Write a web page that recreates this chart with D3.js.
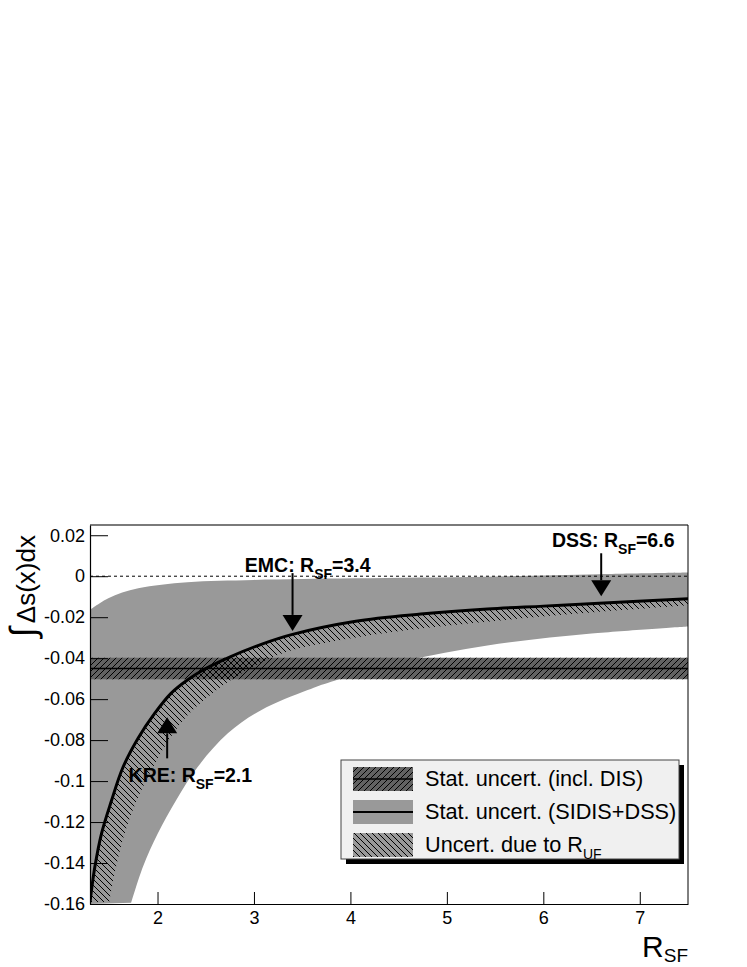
<!DOCTYPE html>
<html><head><meta charset="utf-8">
<script src="https://cdn.jsdelivr.net/npm/d3@7"></script>
<style>
html,body{margin:0;padding:0;background:#fff;}
svg{display:block;font-family:"Liberation Sans",Arial,Helvetica,sans-serif;}
</style></head>
<body>
<svg id="chart" width="747" height="967"></svg>
<script>
// ---- data ----
const xDomain = [1.3, 7.5];
const yDomain = [-0.16, 0.025];
const xMajorTicks = [2, 3, 4, 5, 6, 7];
const yMajorTicks = [-0.16, -0.14, -0.12, -0.1, -0.08, -0.06, -0.04, -0.02, 0, 0.02];
const yTickLabels = ["-0.16", "-0.14", "-0.12", "-0.1", "-0.08", "-0.06", "-0.04", "-0.02", "0", "0.02"];

// central curve: integral of Delta s vs R_SF
const R_central = [1.30, 1.35, 1.42, 1.52, 1.64, 1.80, 1.97, 2.14, 2.31, 2.49, 2.76, 3.09, 3.39, 4.04, 4.73, 5.42, 6.00, 6.58, 7.50];
const ds_central = [-0.159, -0.142, -0.1255, -0.110, -0.0935, -0.079, -0.067, -0.0572, -0.0507, -0.0453, -0.0392, -0.0330, -0.0285, -0.0221, -0.0185, -0.0160, -0.0146, -0.0132, -0.0110];

// lower edge of "Uncert. due to R_UF" band (upper edge = central curve)
const R_lowUF = [1.50, 1.57, 1.66, 1.78, 1.95, 2.13, 2.31, 2.56, 2.82, 3.10, 3.40, 4.04, 4.73, 5.50, 6.58, 7.50];
const ds_lowUF = [-0.159, -0.142, -0.1255, -0.110, -0.0935, -0.079, -0.068, -0.0575, -0.049, -0.0415, -0.0360, -0.0300, -0.0255, -0.0218, -0.0174, -0.0142];

// "Stat. uncert. (SIDIS+DSS)" band edges
const R_grayUp = [1.30, 1.49, 1.80, 2.31, 3.00, 4.04, 5.42, 6.58, 7.50];
const ds_grayUp = [-0.0164, -0.0107, -0.0059, -0.0029, -0.0018, -0.0010, -0.0002, 0.0010, 0.0018];
const R_grayLow = [1.727, 1.849, 2.004, 2.193, 2.418, 2.729, 3.073, 3.557, 3.80, 4.56, 5.42, 6.50, 7.50];
const ds_grayLow = [-0.1594, -0.1418, -0.1255, -0.1093, -0.093, -0.0767, -0.0654, -0.0556, -0.0515, -0.0415, -0.0338, -0.028, -0.0245];

// "Stat. uncert. (incl. DIS)" horizontal band
const disCentral = -0.045;
const disLow = -0.0503;
const disHigh = -0.0398;

// annotations: label, R value, arrow tail and tip (data units), label anchor (data units)
const annNames = ["EMC", "DSS", "KRE"];
const annR = [3.4, 6.6, 2.1];
const annValue = ["3.4", "6.6", "2.1"];
const annTail = [0.0015, 0.0112, -0.0889];
const annTip = [-0.0267, -0.0098, -0.0689];
const annLabelR = [2.905, 6.09, 1.70];
const annLabelY = [0.0021, 0.0141, -0.1003];

const legendLabels = ["Stat. uncert. (incl. DIS)", "Stat. uncert. (SIDIS+DSS)", "Uncert. due to R"];

// ---- drawing ----
const svg = d3.select("#chart");
const L = 90, Rr = 688, T = 525, B = 904;
const x = d3.scaleLinear().domain(xDomain).range([L, Rr]);
const y = d3.scaleLinear().domain(yDomain).range([B, T]);

const GRAY = "#999999", DARK = "#626262";

const defs = svg.append("defs");
defs.append("clipPath").attr("id", "plotclip").append("rect")
  .attr("x", L).attr("y", T).attr("width", Rr - L).attr("height", B - T);
const pf = defs.append("pattern").attr("id", "hatchF").attr("patternUnits", "userSpaceOnUse")
  .attr("width", 6).attr("height", 6);
pf.append("path").attr("d", "M-1,1 l2,-2 M0,6 l6,-6 M5,7 l2,-2").attr("stroke", "#000").attr("stroke-width", 1);
const pb = defs.append("pattern").attr("id", "hatchB").attr("patternUnits", "userSpaceOnUse")
  .attr("width", 6).attr("height", 6);
pb.append("path").attr("d", "M-1,5 l2,2 M0,0 l6,6 M5,-1 l2,2").attr("stroke", "#000").attr("stroke-width", 1);

const zip = (a, b) => a.map((v, i) => [v, b[i]]);
const line = d3.line().x(d => x(d[0])).y(d => y(d[1])).curve(d3.curveCatmullRom.alpha(0.5));
const corner = `L${x(xDomain[0])},${y(yDomain[0])}`;

const plot = svg.append("g").attr("clip-path", "url(#plotclip)");

// gray band
const grayUp = zip(R_grayUp, ds_grayUp);
const grayLow = zip(R_grayLow, ds_grayLow).reverse();
plot.append("path")
  .attr("d", line(grayUp) + "L" + line(grayLow).slice(1) + corner + "Z")
  .attr("fill", GRAY);

// zero line
plot.append("line").attr("x1", L).attr("x2", Rr).attr("y1", y(0)).attr("y2", y(0))
  .attr("stroke", "#000").attr("stroke-width", 1).attr("stroke-dasharray", "3,3");

// DIS band
plot.append("rect").attr("x", L).attr("width", Rr - L)
  .attr("y", y(disHigh)).attr("height", y(disLow) - y(disHigh)).attr("fill", DARK);
plot.append("rect").attr("x", L).attr("width", Rr - L)
  .attr("y", y(disHigh)).attr("height", y(disLow) - y(disHigh)).attr("fill", "url(#hatchF)");
plot.append("line").attr("x1", L).attr("x2", Rr).attr("y1", y(disCentral)).attr("y2", y(disCentral))
  .attr("stroke", "#000").attr("stroke-width", 1.5);

// R_UF hatched band
const central = zip(R_central, ds_central);
const lowUF = zip(R_lowUF, ds_lowUF).reverse();
plot.append("path")
  .attr("d", line(central) + "L" + line(lowUF).slice(1) + "Z")
  .attr("fill", "url(#hatchB)");

// central curve
plot.append("path").attr("d", line(central)).attr("fill", "none")
  .attr("stroke", "#000").attr("stroke-width", 3);

// arrows and labels
annNames.forEach((n, i) => {
  const ax = x(annR[i]), yt = y(annTail[i]), yp = y(annTip[i]);
  const dir = yp > yt ? 1 : -1;
  const hl = 16, hw = 10;
  svg.append("line").attr("x1", ax).attr("x2", ax).attr("y1", yt).attr("y2", yp - dir * hl)
    .attr("stroke", "#000").attr("stroke-width", 2);
  svg.append("path").attr("d", `M${ax},${yp} L${ax - hw},${yp - dir * hl} L${ax + hw},${yp - dir * hl} Z`)
    .attr("fill", "#000");
  const t = svg.append("text").attr("x", x(annLabelR[i])).attr("y", y(annLabelY[i]))
    .attr("font-size", 19.5).attr("font-weight", "bold").attr("fill", "#000");
  t.append("tspan").text(n + ": R");
  t.append("tspan").attr("font-size", 14).attr("dy", 7).text("SF");
  t.append("tspan").attr("dy", -7).text("=" + annValue[i]);
});

// frame
svg.append("line").attr("x1", L).attr("x2", Rr).attr("y1", T).attr("y2", T).attr("stroke", "#7a7a7a").attr("stroke-width", 2);
svg.append("line").attr("x1", Rr).attr("x2", Rr).attr("y1", T).attr("y2", B).attr("stroke", "#000").attr("stroke-width", 1);

// axes
const fontTick = 18;
const yMinor = d3.range(-0.16, 0.0241, 0.004).map(v => +v.toFixed(3));
const xMinor = d3.range(1.4, 7.501, 0.2).map(v => +v.toFixed(1));

const gy = svg.append("g").attr("transform", `translate(${L},0)`);
gy.call(d3.axisLeft(y).tickValues(yMinor).tickSize(-10).tickFormat(""));
gy.call(d3.axisLeft(y).tickValues(yMajorTicks).tickSizeInner(-18).tickSizeOuter(0).tickPadding(5)
  .tickFormat((d, i) => yTickLabels[i]));
const gx = svg.append("g").attr("transform", `translate(0,${B})`);
gx.call(d3.axisBottom(x).tickValues(xMinor).tickSize(-6).tickFormat(""));
gx.call(d3.axisBottom(x).tickValues(xMajorTicks).tickSizeInner(-12).tickSizeOuter(0).tickPadding(7)
  .tickFormat(d3.format("d")));
svg.selectAll(".tick text").attr("font-size", fontTick).attr("font-family", "Liberation Sans, Arial, sans-serif").attr("fill", "#000");
svg.selectAll(".domain").attr("stroke", "#000").attr("stroke-width", 1.2);
svg.selectAll(".tick line").attr("stroke", "#000");

// axis titles
const yt = svg.append("text").attr("transform", "translate(35,535) rotate(-90)")
  .attr("text-anchor", "end").attr("font-size", 26).attr("fill", "#000");
yt.append("tspan").attr("font-size", 36).text("\u222B");
yt.append("tspan").attr("dx", 4).text("\u0394s(x)dx");

const xt = svg.append("text").attr("x", Rr).attr("y", 957).attr("text-anchor", "end")
  .attr("font-size", 30).attr("fill", "#000");
xt.append("tspan").text("R");
xt.append("tspan").attr("font-size", 19).attr("dy", 5).text("SF");

// legend
const lg = svg.append("g").attr("transform", "translate(341,760)");
const lw = 338, lh = 99;
lg.append("rect").attr("x", 5).attr("y", 5).attr("width", lw).attr("height", lh).attr("fill", "#000");
lg.append("rect").attr("x", 0).attr("y", 0).attr("width", lw).attr("height", lh)
  .attr("fill", "#f0f0f0").attr("stroke", "#444").attr("stroke-width", 1);
legendLabels.forEach((lab, i) => {
  const ry = 7 + i * 33;
  const sx = 12, sw = 60, sh = 24;
  if (i === 0) {
    lg.append("rect").attr("x", sx).attr("y", ry).attr("width", sw).attr("height", sh).attr("fill", DARK);
    lg.append("rect").attr("x", sx).attr("y", ry).attr("width", sw).attr("height", sh).attr("fill", "url(#hatchF)");
    lg.append("line").attr("x1", sx).attr("x2", sx + sw).attr("y1", ry + sh / 2).attr("y2", ry + sh / 2).attr("stroke", "#000").attr("stroke-width", 1.5);
  } else if (i === 1) {
    lg.append("rect").attr("x", sx).attr("y", ry).attr("width", sw).attr("height", sh).attr("fill", GRAY);
    lg.append("line").attr("x1", sx).attr("x2", sx + sw).attr("y1", ry + sh / 2).attr("y2", ry + sh / 2).attr("stroke", "#000").attr("stroke-width", 2);
  } else {
    lg.append("rect").attr("x", sx).attr("y", ry).attr("width", sw).attr("height", sh).attr("fill", GRAY);
    lg.append("rect").attr("x", sx).attr("y", ry).attr("width", sw).attr("height", sh).attr("fill", "url(#hatchB)");
  }
  const t = lg.append("text").attr("x", 84).attr("y", ry + 19).attr("font-size", 21.7).attr("fill", "#000");
  t.append("tspan").text(lab);
  if (i === 2) t.append("tspan").attr("font-size", 14).attr("dy", 7).text("UF");
});
</script>
</body></html>
